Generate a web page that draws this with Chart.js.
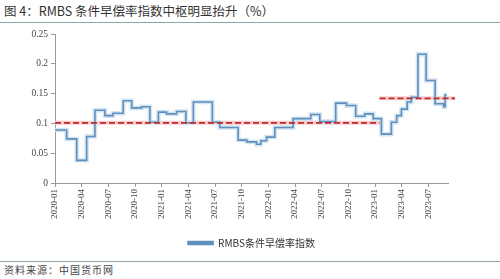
<!DOCTYPE html>
<html><head><meta charset="utf-8">
<script src="https://cdn.jsdelivr.net/npm/chart.js@4/dist/chart.umd.min.js"></script>
<style>
html,body{margin:0;padding:0;background:#fff;}
#wrap{position:relative;width:500px;height:279px;overflow:hidden;font-family:"Noto Sans CJK SC",sans-serif;}
#title{position:absolute;left:4px;top:2px;font-size:12.5px;line-height:18px;color:#333;white-space:nowrap;}
#hr1{position:absolute;left:0;top:22px;width:500px;height:1px;background:#8fa5ad;}
#hr2{position:absolute;left:0;top:261px;width:500px;height:1px;background:#8fa5ad;}
#src{position:absolute;left:4px;top:263px;font-size:10px;line-height:14px;color:#444;white-space:nowrap;letter-spacing:1px;}
#box{position:absolute;left:0;top:25px;width:500px;height:233px;}
</style></head><body>
<div id="wrap">
  <div id="title">图 4：RMBS 条件早偿率指数中枢明显抬升（%）</div>
  <div id="hr1"></div>
  <div id="box"><canvas id="cv" width="500" height="233"></canvas></div>
  <div id="hr2"></div>
  <div id="src">资料来源：中国货币网</div>
</div>
<script>
// x positions are months since 2020-01
const tickPos = [0,3,6,9,12,15,18,21,24,27,30,33,36,39,42];
const tickLabels = ['2020-01','2020-04','2020-07','2020-10','2021-01','2021-04','2021-07','2021-10','2022-01','2022-04','2022-07','2022-10','2023-01','2023-04','2023-07'];
const seriesName = 'RMBS条件早偿率指数';
const monthPos = [0,1.31,2.44,3.56,4.49,5.62,6.52,7.67,8.62,9.74,10.67,11.63,12.55,13.67,14.72,15.56,17.7,18.54,20.6,21.57,22.66,23.15,23.79,24.72,26.78,28.76,29.78,31.57,32.78,33.82,34.83,35.79,36.71,37.83,38.43,38.96,39.61,40.08,40.82,41.74,42.75,43.71,43.88,44.04];
const cprValues = [0.089,0.074,0.038,0.078,0.122,0.113,0.117,0.138,0.126,0.128,0.102,0.119,0.116,0.120,0.101,0.136,0.102,0.093,0.072,0.069,0.065,0.071,0.077,0.093,0.108,0.115,0.103,0.134,0.130,0.112,0.116,0.108,0.082,0.102,0.113,0.124,0.136,0.144,0.216,0.172,0.133,0.128,0.148,0.148];
const avg1X = [0,36.5], avg1Y = [0.101,0.101];
const avg2X = [36.5,45], avg2Y = [0.142,0.142];

const pts = (xs, ys) => xs.map((x,i)=>({x:x,y:ys[i]}));
const serif = "'Liberation Serif','Times New Roman',serif";

// note: Chart.js draws the first dataset on top
new Chart(document.getElementById('cv'), {
  type: 'line',
  data: { datasets: [
    { label: 'avg1', data: pts(avg1X,avg1Y), borderColor:'#c0282d', borderWidth:1.8, borderDash:[6,3], pointRadius:0, clip:false },
    { label: 'avg2', data: pts(avg2X,avg2Y), borderColor:'#c0282d', borderWidth:1.8, borderDash:[6,3], pointRadius:0, clip:false },
    { label: seriesName, data: pts(monthPos,cprValues), stepped:'before', borderColor:'#5f8fbc', backgroundColor:'#5f8fbc', borderWidth:1.6, pointRadius:0 },
    { label: 'halo', data: pts(monthPos,cprValues), stepped:'before', borderColor:'#d3e5f3', borderWidth:4.5, pointRadius:0 },
    { label: 'avg1halo', data: pts(avg1X,avg1Y), borderColor:'#f7cccc', borderWidth:4, pointRadius:0, clip:false },
    { label: 'avg2halo', data: pts(avg2X,avg2Y), borderColor:'#f7cccc', borderWidth:4, pointRadius:0, clip:false }
  ]},
  options: {
    responsive:false, animation:false, devicePixelRatio:1,
    layout:{ padding:{ left:0, right:52, top:9, bottom:0 } },
    plugins:{
      tooltip:{enabled:false},
      legend:{
        position:'bottom', fullSize:false,
        labels:{
          filter:(item)=>item.text===seriesName,
          boxWidth:25, boxHeight:3, padding:8,
          color:'#333', font:{family:"'Noto Sans CJK SC'", size:10}
        }
      }
    },
    scales:{
      x:{
        type:'linear', min:0, max:44.2,
        afterBuildTicks:(s)=>{ s.ticks = tickPos.map(v=>({value:v})); },
        afterFit:(s)=>{ s.height = 47; },
        grid:{ drawOnChartArea:false, color:'#999', tickLength:4 },
        border:{ display:true, color:'#999' },
        ticks:{ autoSkip:false, minRotation:90, maxRotation:90, padding:2, color:'#444',
          font:{family:serif, size:9},
          callback:(v)=>{ const i=tickPos.indexOf(v); return i>=0?tickLabels[i]:''; } }
      },
      y:{
        min:0, max:0.25,
        afterFit:(s)=>{ s.width = 55; },
        grid:{ drawOnChartArea:false, color:'#999', tickLength:4 },
        border:{ display:true, color:'#999' },
        ticks:{ stepSize:0.05, padding:3, color:'#444', font:{family:serif, size:9.5},
          callback:(v)=>String(+v.toFixed(2)) }
      }
    }
  }
});
</script>
</body></html>
